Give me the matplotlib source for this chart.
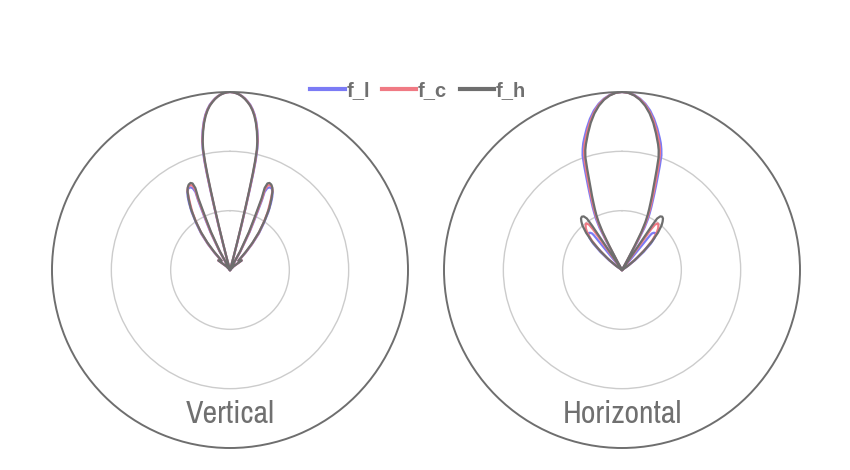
import numpy as np
import matplotlib
matplotlib.use("Agg")
import matplotlib.pyplot as plt
from matplotlib.lines import Line2D

# =========================
# DATA: traced half outlines (angle deg from boresight, r normalised 0..1)
# each list runs from the main-lobe peak, down the flank, out along a side lobe and back
# =========================
series_names = ["f_l", "f_c", "f_h"]
series_colors = ["#7b7bf5", "#f07a84", "#6e6e6e"]
panel_titles = ["Vertical", "Horizontal"]
ring_levels = [1 / 3, 2 / 3]

# Vertical
v_l_ang = [0, 1, 2, 3, 4, 5, 6, 7, 8, 9, 10, 11, 12, 12.7, 13.2, 13.5, 13.8, 14.1, 14.5, 14.9, 15.5, 20,
           29.3, 27.3, 25.8, 24.6, 23.9, 24.5, 25.6, 27.0, 28.6, 30.0, 31.5, 33.5, 36.0, 38.4, 40.5, 42.0, 43.0,
           51.0, 45.0, 40.0]
v_l_r = [1.0, 0.998, 0.994, 0.988, 0.979, 0.967, 0.952, 0.935, 0.912, 0.884, 0.848, 0.804, 0.752, 0.70, 0.635,
         0.565, 0.47, 0.37, 0.26, 0.16, 0.07, 0.0,
         0.12, 0.24, 0.33, 0.43, 0.48, 0.505, 0.515, 0.515, 0.50, 0.475, 0.44, 0.39, 0.32, 0.26, 0.19, 0.13, 0.07,
         0.085, 0.03, 0.0]

v_c_ang = [0, 1, 2, 3, 4, 5, 6, 7, 8, 9, 10, 11, 12, 12.6, 13.1, 13.4, 13.7, 14.0, 14.4, 14.8, 15.4, 20,
           29.0, 27.0, 25.4, 24.2, 23.4, 24.0, 25.1, 26.5, 28.0, 29.6, 31.2, 33.2, 35.6, 38.0, 40.2, 41.6, 42.6,
           51.0, 45.0, 40.0]
v_c_r = [1.0, 0.998, 0.994, 0.988, 0.978, 0.966, 0.950, 0.932, 0.909, 0.880, 0.843, 0.798, 0.745, 0.695, 0.628,
         0.56, 0.465, 0.365, 0.255, 0.155, 0.07, 0.0,
         0.12, 0.24, 0.33, 0.44, 0.49, 0.52, 0.527, 0.525, 0.51, 0.47, 0.43, 0.385, 0.32, 0.26, 0.19, 0.13, 0.07,
         0.085, 0.03, 0.0]

v_h_ang = [0, 1, 2, 3, 4, 5, 6, 7, 8, 9, 10, 11, 12, 12.6, 13.0, 13.3, 13.6, 13.9, 14.2, 14.6, 15.2, 20,
           28.5, 26.5, 25.0, 23.8, 22.9, 23.4, 24.4, 25.8, 27.2, 28.5, 30.3, 32.5, 35.0, 37.4, 39.5, 41.0, 42.0,
           50.5, 44.5, 40.0]
v_h_r = [1.0, 0.998, 0.994, 0.987, 0.977, 0.964, 0.948, 0.930, 0.906, 0.876, 0.838, 0.792, 0.738, 0.69, 0.62,
         0.55, 0.45, 0.35, 0.25, 0.15, 0.07, 0.0,
         0.12, 0.24, 0.33, 0.44, 0.50, 0.53, 0.537, 0.533, 0.52, 0.50, 0.46, 0.41, 0.34, 0.27, 0.20, 0.137, 0.07,
         0.085, 0.03, 0.0]

# Horizontal
h_l_ang = [0, 2, 4, 6, 8, 10, 12, 14, 16, 17, 18, 19, 20, 21, 22, 23, 24, 25, 26, 27, 28, 28.7, 29.2, 32,
           39.0, 39.0, 39.0, 39.3, 40.5, 42.0, 43.5, 45.5, 47.5, 50.0, 53.0, 56.0, 57.0]
h_l_r = [1.0, 0.997, 0.986, 0.968, 0.943, 0.91, 0.868, 0.82, 0.77, 0.745, 0.715, 0.68, 0.62, 0.56, 0.51,
         0.465, 0.425, 0.39, 0.355, 0.32, 0.27, 0.18, 0.06, 0.0,
         0.1, 0.2, 0.25, 0.265, 0.275, 0.28, 0.275, 0.255, 0.22, 0.16, 0.09, 0.03, 0.0]

h_c_ang = [0, 2, 4, 6, 8, 10, 12, 14, 16, 17, 18, 19, 20, 21, 22, 23, 24, 25, 26, 27, 28, 28.6, 29.0, 32,
           35.5, 35.5, 35.5, 36.0, 37.5, 39.0, 41.0, 43.0, 45.5, 48.0, 51.0, 54.0, 57.0]
h_c_r = [1.0, 0.9965, 0.9845, 0.965, 0.9375, 0.90, 0.856, 0.805, 0.752, 0.725, 0.69, 0.64, 0.58, 0.525, 0.48,
         0.437, 0.40, 0.365, 0.328, 0.28, 0.20, 0.10, 0.03, 0.0,
         0.1, 0.2, 0.28, 0.315, 0.33, 0.325, 0.31, 0.285, 0.24, 0.18, 0.11, 0.05, 0.0]

h_h_ang = [0, 2, 4, 6, 8, 10, 12, 14, 16, 17, 18, 19, 20, 21, 22, 23, 24, 25, 26, 27, 27.7, 28.2, 28.5, 32,
           34.0, 34.0, 34.0, 34.3, 35.5, 37.0, 38.5, 40.0, 41.6, 44.0, 46.5, 49.0, 52.0, 55.0, 57.0]
h_h_r = [1.0, 0.996, 0.983, 0.962, 0.932, 0.893, 0.845, 0.79, 0.735, 0.705, 0.665, 0.60, 0.54, 0.49, 0.45,
         0.41, 0.375, 0.34, 0.30, 0.24, 0.15, 0.05, 0.01, 0.0,
         0.1, 0.2, 0.3, 0.35, 0.37, 0.375, 0.37, 0.355, 0.335, 0.29, 0.23, 0.16, 0.09, 0.04, 0.0]

panels = [
    [(v_l_ang, v_l_r), (v_c_ang, v_c_r), (v_h_ang, v_h_r)],
    [(h_l_ang, h_l_r), (h_c_ang, h_c_r), (h_h_ang, h_h_r)],
]


def full_outline(ang, r):
    # the patterns are symmetric about boresight: mirror the traced half
    ang = np.asarray(ang, float)
    r = np.asarray(r, float)
    a = np.concatenate([-ang[::-1], ang[1:]])
    rr = np.concatenate([r[::-1], r[1:]])
    return np.deg2rad(a), rr


# =========================
# FIGURE
# =========================
W, H = 850, 470
fig = plt.figure(figsize=(W / 100, H / 100), dpi=100)
fig.patch.set_facecolor("white")

R = 178
centers = [(230, 270), (622, 270)]
narrow = ["Archivo Narrow", "Liberation Sans", "DejaVu Sans"]
text_grey = "#707070"

for (cx, cy), title, curves in zip(centers, panel_titles, panels):
    ax = fig.add_axes([(cx - R) / W, (H - cy - R) / H, 2 * R / W, 2 * R / H],
                      projection="polar")
    ax.set_theta_zero_location("N")
    ax.set_theta_direction(-1)
    ax.set_ylim(0, 1)
    ax.set_xticks([])
    ax.set_yticks(ring_levels)
    ax.set_yticklabels([])
    ax.yaxis.grid(True, color="#cccccc", lw=1.0)
    ax.xaxis.grid(False)
    ax.spines["polar"].set_color("#6e6e6e")
    ax.spines["polar"].set_linewidth(1.4)
    ax.set_facecolor("none")

    for (ang, r), col in zip(curves, series_colors):
        th, rr = full_outline(ang, r)
        ax.plot(th, rr, color=col, lw=1.6, solid_joinstyle="round")

    fig.text(cx / W, 1 - 414 / H, title, ha="center", va="center",
             fontsize=23, color=text_grey, family=narrow)

# legend
handles = [Line2D([], [], color=c, lw=3) for c in series_colors]
leg = fig.legend(handles, series_names, loc="center", bbox_to_anchor=(418 / W, 1 - 91 / H),
                 ncol=3, frameon=False, handlelength=1.7, handletextpad=0.08,
                 columnspacing=0.62, borderpad=0.2,
                 prop={"family": ["Liberation Sans", "DejaVu Sans"], "weight": "bold", "size": 14.5})
for t in leg.get_texts():
    t.set_color(text_grey)

plt.savefig("out.png", dpi=100)
plt.close()
